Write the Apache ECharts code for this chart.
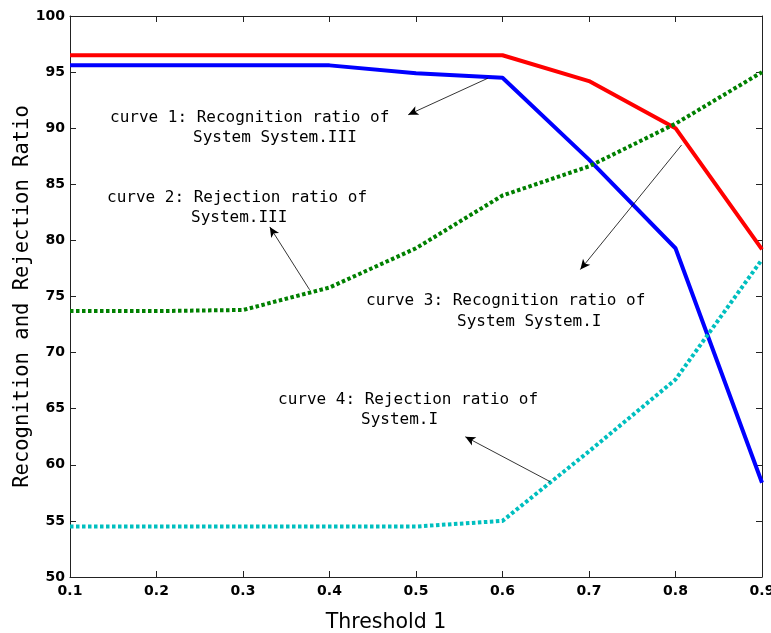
<!DOCTYPE html>
<html>
<head>
<meta charset="utf-8">
<script src="https://cdn.jsdelivr.net/npm/echarts@6/dist/echarts.min.js"></script>
<style>html,body{margin:0;padding:0;background:#fff;}#c{width:771px;height:633px;}</style>
</head>
<body>
<div id="c"></div>
<script>
const thresholds = [0.1, 0.2, 0.3, 0.4, 0.5, 0.6, 0.7, 0.8, 0.9];
const curve1 = [96.5, 96.5, 96.5, 96.5, 96.5, 96.5, 94.2, 90.0, 79.2];   // red
const curve3 = [95.6, 95.6, 95.6, 95.6, 94.9, 94.5, 87.2, 79.3, 58.4];   // blue
const curve2 = [73.7, 73.7, 73.8, 75.8, 79.3, 84.0, 86.6, 90.4, 95.0];   // green dotted
const curve4 = [54.5, 54.5, 54.5, 54.5, 54.5, 55.0, 61.2, 67.6, 78.3];   // cyan dotted
const xTicks = [0.1, 0.2, 0.3, 0.4, 0.5, 0.6, 0.7, 0.8, 0.9];
const yTicks = [50, 55, 60, 65, 70, 75, 80, 85, 90, 95, 100];

// annotation arrows: [from, to] in data coordinates
const arrows = [
  [[0.583, 94.45], [0.491, 91.2]],
  [[0.377, 75.6], [0.331, 81.2]],
  [[0.807, 88.5], [0.690, 77.4]],
  [[0.655, 58.5], [0.557, 62.5]]
];
const notes = [
  ['curve 1: Recognition ratio of', 'System System.III'],
  ['curve 2: Rejection ratio of', 'System.III'],
  ['curve 3: Recognition ratio of', 'System System.I'],
  ['curve 4: Rejection ratio of', 'System.I']
];

const chart = echarts.init(document.getElementById('c'));
const pair = (xs, ys) => xs.map((x, i) => [x, ys[i]]);
const axisCol = '#222';
const labelFont = {color: '#000', fontFamily: 'DejaVu Sans', fontWeight: 'bold', fontSize: 14};

// layout of annotation lines (pixel positions)
const notePos = [
  [[110, 118], [193, 138]],
  [[107, 198], [191, 218]],
  [[366, 301], [457, 322]],
  [[278, 400], [361, 420]]
];
const graphics = [];
notes.forEach((n, i) => n.forEach((t, j) => graphics.push({
  type: 'text', x: notePos[i][j][0], y: notePos[i][j][1],
  style: {text: t, font: '16px "DejaVu Sans Mono"', fill: '#000', verticalAlign: 'middle', align: 'left'}
})));

chart.setOption({
  animation: false,
  grid: {left: 70, right: 9, top: 16, bottom: 56, containLabel: false, outerBoundsMode: 'none'},
  xAxis: [{
    type: 'value', min: 0.1, max: 0.9, interval: 0.1, position: 'bottom',
    axisLine: {lineStyle: {color: axisCol, width: 1}},
    axisTick: {inside: true, length: 6, lineStyle: {color: axisCol}},
    axisLabel: Object.assign({margin: 7, formatter: v => v.toFixed(1)}, labelFont),
    splitLine: {show: false},
    name: 'Threshold 1', nameLocation: 'middle', nameGap: 35, nameMoveOverlap: false,
    nameTextStyle: {fontFamily: 'DejaVu Sans', fontSize: 20.5, color: '#000', padding: [0, 60, 0, 0]}
  }, {
    type: 'value', min: 0.1, max: 0.9, interval: 0.1, position: 'top',
    axisLine: {lineStyle: {color: axisCol, width: 1}},
    axisTick: {inside: true, length: 6, lineStyle: {color: axisCol}},
    axisLabel: {show: false}, splitLine: {show: false}
  }],
  yAxis: [{
    type: 'value', min: 50, max: 100, interval: 5, position: 'left',
    axisLine: {show: true, lineStyle: {color: axisCol, width: 1}},
    axisTick: {show: true, inside: true, length: 6, lineStyle: {color: axisCol}},
    axisLabel: Object.assign({margin: 5}, labelFont),
    splitLine: {show: false},
    name: 'Recognition and Rejection Ratio', nameLocation: 'middle', nameGap: 37, nameMoveOverlap: false,
    nameTextStyle: {fontFamily: 'DejaVu Sans Mono', fontSize: 20.5, color: '#000'}
  }, {
    type: 'value', min: 50, max: 100, interval: 5, position: 'right',
    axisLine: {show: true, lineStyle: {color: axisCol, width: 1}},
    axisTick: {show: true, inside: true, length: 6, lineStyle: {color: axisCol}},
    axisLabel: {show: false}, splitLine: {show: false}
  }],
  series: [
    {type: 'line', data: pair(thresholds, curve1), symbol: 'none',
     lineStyle: {color: '#ff0000', width: 4}},
    {type: 'line', data: pair(thresholds, curve3), symbol: 'none',
     lineStyle: {color: '#0000ff', width: 4}},
    {type: 'line', data: pair(thresholds, curve2), symbol: 'none',
     lineStyle: {color: '#008000', width: 4, type: [3.5, 2.5]}},
    {type: 'line', data: pair(thresholds, curve4), symbol: 'none',
     lineStyle: {color: '#00bfbf', width: 4, type: [3.5, 2.5]}},
    {type: 'line', data: [], silent: true,
     markLine: {
       silent: true, symbol: ['none', 'arrow'], symbolSize: [7, 10],
       label: {show: false},
       lineStyle: {color: '#000', width: 0.8, type: 'solid'},
       data: arrows.map(a => [{coord: a[0]}, {coord: a[1]}])
     }}
  ],
  graphic: graphics
});
</script>
</body>
</html>
